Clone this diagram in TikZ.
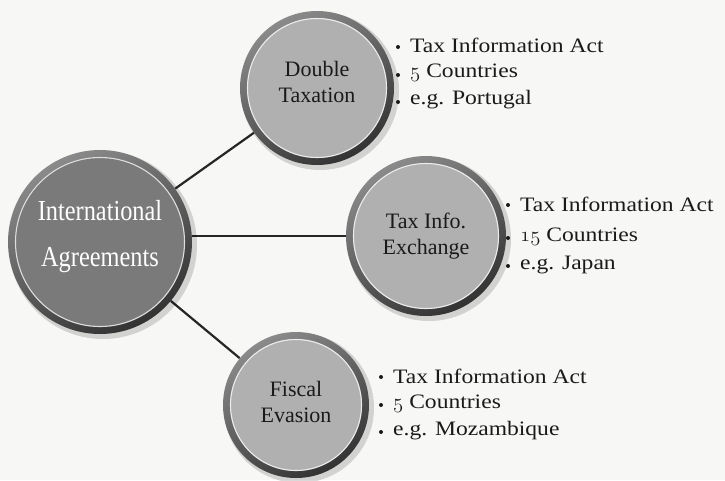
\documentclass[tikz,border=0pt]{standalone}
\usepackage{fontspec}
\setmainfont{Liberation Serif}
\newfontfamily\condfont{Liberation Serif}[FakeStretch=0.84]
\newfontfamily\widefont{Liberation Serif}[FakeStretch=1.15]
\newcommand{\osdig}[1]{{\usefont{OML}{cmm}{m}{it}#1}}
\definecolor{paper}{HTML}{F7F7F5}
\definecolor{rimdark}{HTML}{333333}
\definecolor{rimlight}{HTML}{8A8A8A}
\definecolor{hubfill}{HTML}{7A7A7A}
\definecolor{leaffill}{HTML}{B0B0B0}
\definecolor{inktext}{HTML}{1A1A1A}
\tikzset{
  bubble/.style={circle, inner sep=0pt, draw=none, align=center, text=inktext,
    font=\fontsize{22}{26}\selectfont},
  hubtext/.style={circle, inner sep=0pt, draw=none, align=center, text=white,
    font=\condfont\fontsize{29}{46}\selectfont},
  dot/.style={circle, fill=inktext, inner sep=0pt, minimum size=4pt},
  item/.style={anchor=west, inner sep=0pt, text=inktext,
    font=\widefont\fontsize{20.5}{24}\selectfont},
  link/.style={line width=2.2pt, draw=black!85},
}
\usetikzlibrary{calc}
% a shaded disc with a dark rim and a pale inner highlight ring
\newcommand{\disc}[3]{% centre, radius, fill colour
  \fill[black, opacity=0.15] ($(#1)+(3,3)$) circle (#2+2);
  \shade[left color=rimlight, right color=rimdark, shading angle=30] (#1) circle (#2);
  \fill[#3] (#1) circle (#2-7);
  \draw[white, opacity=0.75, line width=1.1pt] (#1) circle (#2-7.5);
}
\begin{document}
\begin{tikzpicture}[x=1pt, y=-1pt]
  \fill[paper] (0,0) rectangle (725,480);
  \useasboundingbox (0,0) rectangle (725,480);

  % circle positions
  \coordinate (cIA) at (100,242);
  \coordinate (cDT) at (317,88);
  \coordinate (cTI) at (426,236);
  \coordinate (cFE) at (296,405);

  % outline nodes used as connector ends
  \node[circle, minimum size=184pt, inner sep=0pt] (IAb) at (cIA) {};
  \node[circle, minimum size=154pt, inner sep=0pt] (DTb) at (cDT) {};
  \node[circle, minimum size=160pt, inner sep=0pt] (TIb) at (cTI) {};
  \node[circle, minimum size=146pt, inner sep=0pt] (FEb) at (cFE) {};

  % connectors (drawn first, discs sit on top)
  \draw[link] (IAb) -- (DTb);
  \draw[link] (TIb.west) -- (IAb.east |- TIb.west);
  \draw[link] (IAb) -- (FEb);

  % discs
  \disc{cIA}{92}{hubfill}
  \disc{cDT}{77}{leaffill}
  \disc{cTI}{80}{leaffill}
  \disc{cFE}{73}{leaffill}

  % labels inside the discs
  \node[hubtext] (IA) at ($(cIA)+(0,-5)$) {International\\Agreements};
  \node[bubble] (DT) at ($(cDT)+(0,-6)$) {Double\\Taxation};
  \node[bubble] (TI) at ($(cTI)+(0,0)$) {Tax Info.\\Exchange};
  \node[bubble] (FE) at ($(cFE)+(0,-3)$) {Fiscal\\Evasion};

  % Double Taxation details
  \node[dot] (d1) at (398,47) {};
  \node[dot] (d2) at (398,75) {};
  \node[dot] (d3) at (398,102) {};
  \node[item] (t1) at (410,45) {Tax Information Act};
  \node[item] (t2) at (410,73) {\osdig{5} Countries};
  \node[item] (t3) at (410,100) {e.g. Portugal};

  % Tax Info. Exchange details
  \node[dot] (e1) at (508,205) {};
  \node[dot] (e2) at (508,238) {};
  \node[dot] (e3) at (508,266) {};
  \node[item] (u1) at (520,204) {Tax Information Act};
  \node[item] (u2) at (520,237) {\osdig{15} Countries};
  \node[item] (u3) at (520,265) {e.g. Japan};

  % Fiscal Evasion details
  \node[dot] (f1) at (381,377) {};
  \node[dot] (f2) at (381,405) {};
  \node[dot] (f3) at (381,432) {};
  \node[item] (v1) at (393,376) {Tax Information Act};
  \node[item] (v2) at (393,404) {\osdig{5} Countries};
  \node[item] (v3) at (393,431) {e.g. Mozambique};
\end{tikzpicture}
\end{document}
